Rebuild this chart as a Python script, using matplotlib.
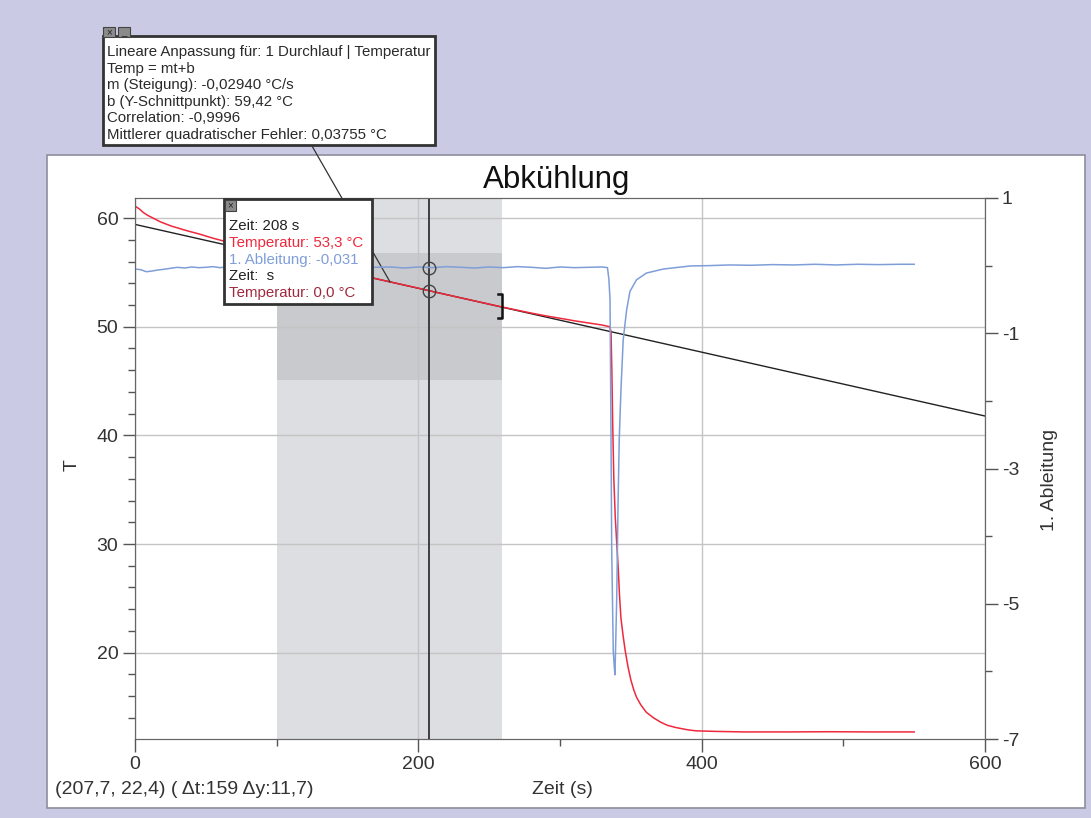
import matplotlib
matplotlib.use("Agg")
import matplotlib.pyplot as plt
from matplotlib.patches import Rectangle
from matplotlib.ticker import MultipleLocator

plt.rcParams["font.family"] = ["Liberation Sans", "DejaVu Sans"]
plt.rcParams["axes.unicode_minus"] = False

W, H = 1091, 818

def fx(x):
    return x / W

def fy(y):
    return 1 - y / H

## DATA ##
zeit_temp = [0, 3, 6, 9, 12, 15, 18, 22, 26, 30, 35, 40, 45, 50, 55, 60, 65, 70,
             80, 90, 100, 110, 120, 140, 160, 180, 200, 208, 220, 240, 259, 270,
             280, 290, 300, 310, 320, 330, 335,
             336, 336.6, 337.2, 338, 339, 340, 341, 342, 343, 344.5, 346, 348,
             350, 352, 354, 357, 361, 366, 371, 376, 382, 390, 396, 410, 430,
             460, 490, 520, 550]
temperatur = [61.1, 60.85, 60.5, 60.25, 60.05, 59.85, 59.65, 59.45, 59.25, 59.1,
              58.9, 58.72, 58.55, 58.35, 58.15, 57.98, 57.8, 57.62,
              57.3, 56.95, 56.55, 56.2, 55.9, 55.3, 54.72, 54.13, 53.55, 53.3,
              52.95, 52.37, 51.82, 51.52, 51.25, 51.0, 50.78, 50.55, 50.35,
              50.15, 50.0,
              49.6, 46.0, 41.0, 36.0, 32.5, 30.2, 28.0, 25.3, 23.2, 21.6, 20.2,
              18.7, 17.5, 16.6, 15.9, 15.2, 14.5, 14.0, 13.6, 13.3, 13.1, 12.9,
              12.8, 12.75, 12.7, 12.7, 12.72, 12.7, 12.7]

zeit_abl = ([0, 4, 8, 12, 16, 20, 25]
            + [30, 35, 40, 45, 50, 55, 60, 65, 70, 75, 80]
            + list(range(90, 331, 10))
            + [333.5, 334.5, 335.3, 336, 336.5, 337.6, 338.2, 338.8, 339.3, 340,
               341, 341.8, 343, 344.6, 347, 349.4, 354, 361, 373, 392]
            + [405, 420, 435, 450, 465, 480, 495, 510, 525, 540, 550])
ableitung = ([-0.05, -0.06, -0.09, -0.08, -0.065, -0.055, -0.04]
             + [-0.025, -0.035, -0.02, -0.03, -0.025, -0.015, -0.03, -0.02,
                -0.035, -0.015, -0.025]
             + [-0.02, -0.03, -0.015, -0.025, -0.035, -0.02, -0.03, -0.015,
                -0.025, -0.02, -0.035, -0.02, -0.03, -0.015, -0.025, -0.035,
                -0.02, -0.03, -0.015, -0.025, -0.04, -0.02, -0.03, -0.025, -0.02]
             + [-0.03, -0.2, -0.5, -2.5, -4.2, -5.7, -5.9, -6.05, -5.6, -4.96,
                -3.5, -2.58, -1.85, -1.1, -0.66, -0.38, -0.21, -0.11, -0.05, -0.005]
             + [0.0, 0.01, 0.005, 0.015, 0.01, 0.02, 0.01, 0.02, 0.015, 0.02, 0.02])

fit_m = -0.02940
fit_b = 59.42
fit_t = [0, 600]
cursor_t = 207.7
cursor_temp = 53.3
cursor_abl = -0.031
bereich_t = [100, 259]
bereich_temp = [45.1, 56.8]
bracket_temp = [50.8, 53.0]
connector_t = 180

fit_vals = [fit_m * t + fit_b for t in fit_t]

rot = "#f0283c"
blau = "#7f9ed8"

## FIGURE ##
fig = plt.figure(figsize=(10.91, 8.18), dpi=100, facecolor="#cbcae5")
fig.add_artist(Rectangle((fx(47), fy(808)), (1085 - 47) / W, (808 - 155) / H,
                         transform=fig.transFigure, facecolor="white",
                         edgecolor="#8e8e9c", lw=1.2, zorder=-1))

ax = fig.add_axes([fx(135), fy(739), (985 - 135) / W, (739 - 198) / H])
ax.set_xlim(0, 600)
ax.set_ylim(12.05, 61.85)
ax.set_axisbelow("line")

ax.axvspan(bereich_t[0], bereich_t[1], color="#dddee1", lw=0, zorder=1)
ax.add_patch(Rectangle((bereich_t[0], bereich_temp[0]), bereich_t[1] - bereich_t[0],
                       bereich_temp[1] - bereich_temp[0], color="#c9cacd", lw=0, zorder=1.1))
ax.grid(True, which="major", color="#c4c4c4", lw=1)

ax.plot(fit_t, fit_vals, color="#222222", lw=1.0, zorder=2.1)
ax.plot(zeit_temp, temperatur, color=rot, lw=1.1, zorder=2.2)
ax.axvline(cursor_t, color="#333333", lw=1.3, zorder=3)
ax.plot([cursor_t], [cursor_temp], "o", mfc="none", mec="#444444", ms=9, mew=1, zorder=4)
ax.plot([bereich_t[1] - 3, bereich_t[1], bereich_t[1], bereich_t[1] - 3],
        [bracket_temp[1], bracket_temp[1], bracket_temp[0], bracket_temp[0]],
        color="#111111", lw=1.8, zorder=4)
ax.annotate("", xy=(connector_t, fit_m * connector_t + fit_b), xycoords="data",
            xytext=(fx(312), fy(146)), textcoords="figure fraction",
            arrowprops=dict(arrowstyle="-", color="#333333", lw=0.9,
                            shrinkA=0, shrinkB=0),
            annotation_clip=False)

ax.xaxis.set_major_locator(MultipleLocator(200))
ax.xaxis.set_minor_locator(MultipleLocator(100))
ax.yaxis.set_major_locator(MultipleLocator(10))
ax.yaxis.set_minor_locator(MultipleLocator(2))

ax2 = ax.twinx()
ax2.set_ylim(-7, 1)
ax2.plot(zeit_abl, ableitung, color=blau, lw=1.1, zorder=2)
ax2.plot([cursor_t], [cursor_abl], "o", mfc="none", mec="#444444", ms=9, mew=1, zorder=4)
ax2.set_yticks([1, -1, -3, -5, -7])
ax2.yaxis.set_minor_locator(MultipleLocator(1))

for a in (ax, ax2):
    a.tick_params(which="major", length=9, width=1, color="#555555",
                  labelsize=14, labelcolor="#333333", pad=3)
    a.tick_params(which="minor", length=5, width=1, color="#555555")
    for s in a.spines.values():
        s.set_color("#666666")
ax2.set_xlim(0, 600)

## TEXTS ##
fig.text(fx(557), fy(180), "Abkühlung", ha="center", va="center",
         fontsize=22.5, color="#111111")
fig.text(fx(72), fy(465), "T", rotation=90, ha="center", va="center",
         fontsize=14, color="#333333")
fig.text(fx(1050), fy(480), "1. Ableitung", rotation=90, ha="center", va="center",
         fontsize=14, color="#333333")
fig.text(fx(562), fy(790), "Zeit (s)", ha="center", va="center",
         fontsize=14, color="#333333")
fig.text(fx(55), fy(790), "(207,7, 22,4) ( Δt:159 Δy:11,7)", ha="left", va="center",
         fontsize=14, color="#333333")

## FIT BOX ##
box = Rectangle((fx(103), fy(145)), (435 - 103) / W, (145 - 36) / H,
                transform=fig.transFigure, facecolor="white", edgecolor="#333333",
                lw=2, zorder=5)
fig.add_artist(box)
for bx, sym in [(103, "×"), (118, "_")]:
    fig.add_artist(Rectangle((fx(bx), fy(37)), 12 / W, 10 / H, transform=fig.transFigure,
                             facecolor="#8a8a8a", edgecolor="#444444", lw=0.8, zorder=6))
    fig.text(fx(bx + 6), fy(32), sym, ha="center", va="center", fontsize=7,
             color="#222222", zorder=7)

fit_lines = ["Lineare Anpassung für: 1 Durchlauf | Temperatur",
             "Temp = mt+b",
             "m (Steigung): -0,02940 °C/s",
             "b (Y-Schnittpunkt): 59,42 °C",
             "Correlation: -0,9996",
             "Mittlerer quadratischer Fehler: 0,03755 °C"]
for i, line in enumerate(fit_lines):
    t = fig.text(fx(107), fy(52 + i * 16.6), line, ha="left", va="center",
                 fontsize=10.8, color="#2a2a2a", zorder=7)
    t.set_clip_path(box)

## TOOLTIP ##
fig.add_artist(Rectangle((fx(224), fy(304)), (372 - 224) / W, (304 - 199) / H,
                         transform=fig.transFigure, facecolor="white",
                         edgecolor="#333333", lw=2, zorder=5))
fig.add_artist(Rectangle((fx(225), fy(211)), 11 / W, 11 / H, transform=fig.transFigure,
                         facecolor="#8a8a8a", edgecolor="#444444", lw=0.8, zorder=6))
fig.text(fx(230.5), fy(205.5), "×", ha="center", va="center", fontsize=7,
         color="#222222", zorder=7)

tip_lines = [("Zeit: 208 s", "#222222"),
             ("Temperatur: 53,3 °C", rot),
             ("1. Ableitung: -0,031", blau),
             ("Zeit:  s", "#222222"),
             ("Temperatur: 0,0 °C", "#a0283c")]
for i, (line, col) in enumerate(tip_lines):
    fig.text(fx(228.5), fy(226 + i * 16.8), line, ha="left", va="center",
             fontsize=10.8, color=col, zorder=7)

fig.savefig("out.png", dpi=100, facecolor=fig.get_facecolor())
